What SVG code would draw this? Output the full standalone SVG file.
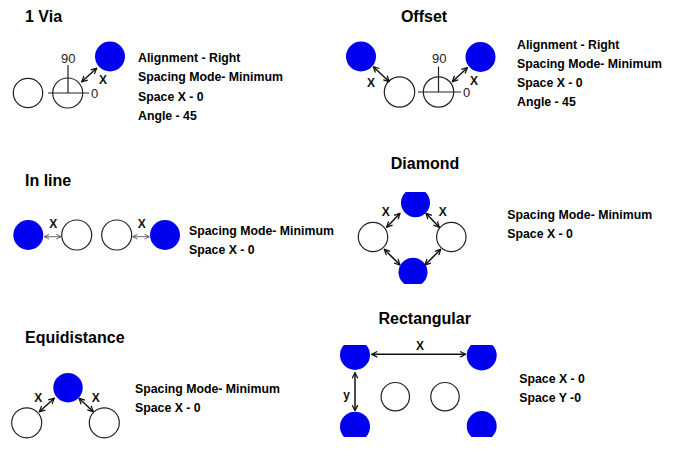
<svg xmlns="http://www.w3.org/2000/svg" width="675" height="451" viewBox="0 0 675 451">
<style>
.title{font-family:"Liberation Sans",Arial,sans-serif;font-weight:bold;font-size:16px;fill:#000}
.txt{font-family:"Liberation Sans",Arial,sans-serif;font-weight:bold;font-size:12.3px;fill:#000}
.num{font-family:"Liberation Sans",Arial,sans-serif;font-size:13px;fill:#222}
.x{font-family:"Liberation Sans",Arial,sans-serif;font-weight:bold;font-size:12px;fill:#111;text-anchor:middle}
.pad{fill:#fff;stroke:#222;stroke-width:1.2}
.via{fill:#0000ee;stroke:none}
.axis{stroke:#222;stroke-width:1.2;fill:none}
.arr{stroke:#111;stroke-width:1.5;fill:none;marker-start:url(#ah);marker-end:url(#ah)}
.arr2{stroke:#666;stroke-width:1;fill:none;marker-start:url(#ah2);marker-end:url(#ah2)}
</style>
<defs>
<marker id="ah" viewBox="0 0 10 10" refX="9" refY="5" markerWidth="7" markerHeight="7" markerUnits="userSpaceOnUse" orient="auto-start-reverse"><path d="M1,1 L9,5 L1,9" fill="none" stroke="#111" stroke-width="1.8"/></marker>
<marker id="ah2" viewBox="0 0 10 10" refX="9" refY="5" markerWidth="6" markerHeight="6" markerUnits="userSpaceOnUse" orient="auto-start-reverse"><path d="M1,1 L9,5 L1,9" fill="none" stroke="#555" stroke-width="1.5"/></marker>
<clipPath id="clipDia"><rect x="340" y="192" width="150" height="92"/></clipPath>
<clipPath id="clipRect"><rect x="330" y="345" width="200" height="92"/></clipPath>
</defs>
<rect width="675" height="451" fill="#fff"/>

<g id="via1">
<text class="title" x="25" y="22">1 Via</text>
<circle class="pad" cx="28" cy="93" r="14.7"/>
<circle class="pad" cx="67.7" cy="93" r="15"/>
<path class="axis" d="M68,65 V93 M48,93 H89"/>
<text class="num" x="61" y="63">90</text>
<text class="num" x="91" y="98">0</text>
<circle class="via" cx="110" cy="56.5" r="15"/>
<text class="x" x="103" y="84">X</text>
<text class="txt" x="138" y="62">Alignment - Right</text>
<text class="txt" x="138" y="81">Spacing Mode- Minimum</text>
<text class="txt" x="138" y="100.5">Space X - 0</text>
<text class="txt" x="138" y="119.5">Angle - 45</text>
</g>

<g id="offset">
<text class="title" x="424" y="22" text-anchor="middle">Offset</text>
<circle class="via" cx="361" cy="56.5" r="15"/>
<circle class="pad" cx="399.5" cy="92" r="15.2"/>
<circle class="pad" cx="438.5" cy="92" r="15.2"/>
<path class="axis" d="M438.5,66.5 V92 M418,92 H461"/>
<text class="num" x="432" y="63">90</text>
<text class="num" x="463" y="97">0</text>
<circle class="via" cx="480.5" cy="57" r="15"/>
<text class="x" x="371" y="87">X</text>
<text class="x" x="474" y="85">X</text>
<text class="txt" x="517" y="48.5">Alignment - Right</text>
<text class="txt" x="517" y="67.7">Spacing Mode- Minimum</text>
<text class="txt" x="517" y="87">Space X - 0</text>
<text class="txt" x="517" y="106">Angle - 45</text>
</g>

<g id="inline">
<text class="title" x="25" y="186">In line</text>
<circle class="via" cx="28.3" cy="235" r="15"/>
<circle class="pad" cx="76.7" cy="235" r="15"/>
<circle class="pad" cx="116.7" cy="235" r="15"/>
<circle class="via" cx="165" cy="235" r="15"/>
<text class="x" x="53.3" y="228">X</text>
<text class="x" x="141.7" y="228">X</text>
<text class="txt" x="189" y="235">Spacing Mode- Minimum</text>
<text class="txt" x="189" y="254.3">Space X - 0</text>
</g>

<g id="diamond">
<text class="title" x="425" y="169.3" text-anchor="middle">Diamond</text>
<g clip-path="url(#clipDia)">
<circle class="via" cx="415.5" cy="202.8" r="14.5"/>
<circle class="via" cx="413" cy="272.2" r="14.5"/>
</g>
<circle class="pad" cx="373" cy="237" r="14.7"/>
<circle class="pad" cx="451.3" cy="237" r="14.7"/>
<text class="x" x="385.7" y="215.5">X</text>
<text class="x" x="442.7" y="215.5">X</text>
<text class="txt" x="507.3" y="219">Spacing Mode- Minimum</text>
<text class="txt" x="507.3" y="238.3">Space X - 0</text>
</g>

<g id="equidistance">
<text class="title" x="25" y="342.7">Equidistance</text>
<circle class="via" cx="68" cy="387.7" r="14.7"/>
<circle class="pad" cx="26.7" cy="422.8" r="15"/>
<circle class="pad" cx="104.3" cy="422.8" r="15"/>
<text class="x" x="38.3" y="402">X</text>
<text class="x" x="95.7" y="402">X</text>
<text class="txt" x="135" y="392.7">Spacing Mode- Minimum</text>
<text class="txt" x="135" y="411.7">Space X - 0</text>
</g>

<g id="rectangular">
<text class="title" x="424.7" y="324.3" text-anchor="middle">Rectangular</text>
<g clip-path="url(#clipRect)">
<circle class="via" cx="355" cy="355" r="15"/>
<circle class="via" cx="481.7" cy="355.5" r="15"/>
<circle class="via" cx="355" cy="426.7" r="15"/>
<circle class="via" cx="481.7" cy="426" r="15"/>
</g>
<circle class="pad" cx="395.3" cy="396.7" r="14.2"/>
<circle class="pad" cx="445" cy="396.7" r="14.2"/>
<text class="x" x="420" y="350">X</text>
<text class="x" x="346.7" y="398.5">y</text>
<text class="txt" x="519.3" y="383.3">Space X - 0</text>
<text class="txt" x="519.3" y="402.3">Space Y -0</text>
</g>

<g id="connectors">
<path class="arr" d="M81.7,81.7 L96.7,68.3"/>
<path class="arr" d="M373.3,66.7 L389.3,81.7"/>
<path class="arr" d="M467.3,67.7 L452.3,81.7"/>
<path class="arr2" d="M44.3,236.7 L61,236.7"/>
<path class="arr2" d="M132.7,236.7 L149.3,236.7"/>
<path class="arr" d="M386.7,227.3 L400,213.3"/>
<path class="arr" d="M426,213.3 L439.3,227.3"/>
<path class="arr" d="M384.3,249.3 L400,265"/>
<path class="arr" d="M440.7,249.3 L425,265"/>
<path class="arr" d="M39.3,411.7 L54.3,398.3"/>
<path class="arr" d="M79,398.3 L93.3,411.7"/>
<path class="arr" d="M371.7,354.3 L465.7,354.3"/>
<path class="arr" d="M355,372.7 L355,410.7"/>
</g>
</svg>
